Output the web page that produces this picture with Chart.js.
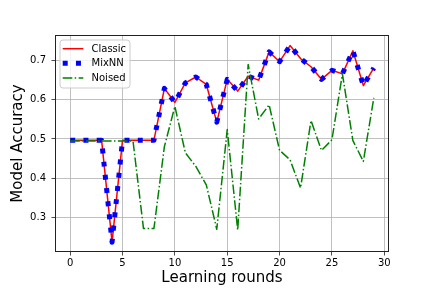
<!DOCTYPE html>
<html><head><meta charset="utf-8">
<script src="https://cdn.jsdelivr.net/npm/chart.js@4.4.1/dist/chart.umd.min.js"></script>
<style>html,body{margin:0;padding:0;background:#fff;}canvas{display:block;}</style>
</head><body>
<canvas id="c" width="432" height="288"></canvas>
<script>
const rounds = [0,1,2,3,4,5,6,7,8,9,10,11,12,13,14,15,16,17,18,19,20,21,22,23,24,25,26,27,28,29];
const classic = [0.497,0.497,0.497,0.497,0.237,0.497,0.497,0.497,0.497,0.629,0.593,0.643,0.658,0.639,0.543,0.652,0.622,0.660,0.650,0.722,0.697,0.738,0.705,0.684,0.652,0.675,0.666,0.725,0.636,0.681];
const mixnn   = [0.497,0.497,0.497,0.497,0.237,0.497,0.497,0.497,0.497,0.629,0.593,0.643,0.658,0.639,0.543,0.652,0.622,0.660,0.650,0.722,0.697,0.738,0.705,0.684,0.652,0.675,0.666,0.725,0.636,0.681];
const noised  = [0.495,0.495,0.495,0.495,0.495,0.495,0.495,0.272,0.272,0.481,0.583,0.465,0.430,0.383,0.270,0.524,0.268,0.690,0.551,0.587,0.471,0.447,0.375,0.547,0.471,0.498,0.666,0.496,0.443,0.605];
const seriesNames = ['Classic','MixNN','Noised'];
const xTicks = [0,5,10,15,20,25,30];
const yTicks = [0.3,0.4,0.5,0.6,0.7];
const xTitle = 'Learning rounds';
const yTitle = 'Model Accuracy';

const FONT = "'DejaVu Sans', sans-serif";
const pts = arr => rounds.map((r,i)=>({x:r,y:arr[i]}));

const framePlugin = {
  id:'frame',
  afterDraw(chart){
    const a=chart.chartArea, ctx=chart.ctx;
    ctx.save();
    ctx.strokeStyle='#222'; ctx.lineWidth=1;
    ctx.strokeRect(Math.round(a.left)+0.5, Math.round(a.top)+0.5, Math.round(a.right-a.left)-1, Math.round(a.bottom-a.top)-1);
    ctx.restore();
  }
};
const legendPlugin = {
  id:'mplLegend',
  afterDatasetsDraw(chart){
    const ctx=chart.ctx, a=chart.chartArea;
    const x0=a.left+5, y0=a.top+5, w=70, h=48, r=3;
    ctx.save();
    ctx.beginPath();
    ctx.moveTo(x0+r,y0); ctx.lineTo(x0+w-r,y0); ctx.quadraticCurveTo(x0+w,y0,x0+w,y0+r);
    ctx.lineTo(x0+w,y0+h-r); ctx.quadraticCurveTo(x0+w,y0+h,x0+w-r,y0+h);
    ctx.lineTo(x0+r,y0+h); ctx.quadraticCurveTo(x0,y0+h,x0,y0+h-r);
    ctx.lineTo(x0,y0+r); ctx.quadraticCurveTo(x0,y0,x0+r,y0); ctx.closePath();
    ctx.fillStyle='rgba(255,255,255,0.8)'; ctx.fill();
    ctx.strokeStyle='#cccccc'; ctx.lineWidth=1; ctx.stroke();
    chart.data.datasets.forEach((ds,i)=>{
      const y=y0+8.7+i*14.65;
      ctx.beginPath();
      ctx.strokeStyle=ds.borderColor; ctx.lineWidth=ds.borderWidth;
      ctx.setLineDash(ds.borderDash||[]); ctx.lineCap='butt';
      ctx.moveTo(x0+2.7,y); ctx.lineTo(x0+23.3,y); ctx.stroke();
      ctx.setLineDash([]);
      ctx.fillStyle='#000'; ctx.font='10px '+FONT; ctx.textBaseline='middle'; ctx.textAlign='left';
      ctx.fillText(ds.label, x0+31.5, y+0.5);
    });
    ctx.restore();
  }
};

const gridOpts = {color:'#b0b0b0', lineWidth:0.8, tickLength:3.5, tickColor:'#222', tickWidth:0.8};

new Chart(document.getElementById('c'), {
  type:'line',
  data:{datasets:[
    {label:seriesNames[0], data:pts(classic), borderColor:'#ff0000', borderWidth:1.5, borderJoinStyle:'round', pointRadius:0, tension:0, order:2, fill:false},
    {label:seriesNames[1], data:pts(mixnn), borderColor:'#0000ff', borderWidth:5, borderDash:[5,8.25], borderCapStyle:'butt', borderJoinStyle:'round', pointRadius:0, tension:0, order:1, fill:false},
    {label:seriesNames[2], data:pts(noised), borderColor:'#008000', borderWidth:1.5, borderDash:[9.6,2.4,1.5,2.4], borderCapStyle:'butt', borderJoinStyle:'round', pointRadius:0, tension:0, order:0, fill:false}
  ]},
  options:{
    responsive:false, animation:false, devicePixelRatio:1,
    layout:{padding:{top:35,right:43,left:0,bottom:0}},
    plugins:{legend:{display:false}, tooltip:{enabled:false}},
    scales:{
      x:{type:'linear', min:-1.45, max:30.45,
        afterBuildTicks:s=>{s.ticks=xTicks.map(v=>({value:v}));},
        afterFit:s=>{s.height=36;},
        grid:gridOpts, border:{display:false},
        ticks:{font:{family:FONT,size:10}, color:'#000', padding:2, maxRotation:0, autoSkip:false, callback:v=>String(v)},
        title:{display:true, text:xTitle, color:'#000', font:{family:FONT,size:15,lineHeight:1}, padding:{top:0,bottom:2}}
      },
      y:{type:'linear', min:0.212, max:0.765,
        afterBuildTicks:s=>{s.ticks=yTicks.map(v=>({value:v}));},
        afterFit:s=>{s.width=55;},
        grid:gridOpts, border:{display:false},
        ticks:{font:{family:FONT,size:10}, color:'#000', padding:5.5, autoSkip:false, callback:v=>Number(v).toFixed(1)},
        title:{display:true, text:yTitle, color:'#000', font:{family:FONT,size:15,lineHeight:1}, padding:{top:11,bottom:0}}
      }
    }
  },
  plugins:[framePlugin, legendPlugin]
});
</script>
</body></html>
